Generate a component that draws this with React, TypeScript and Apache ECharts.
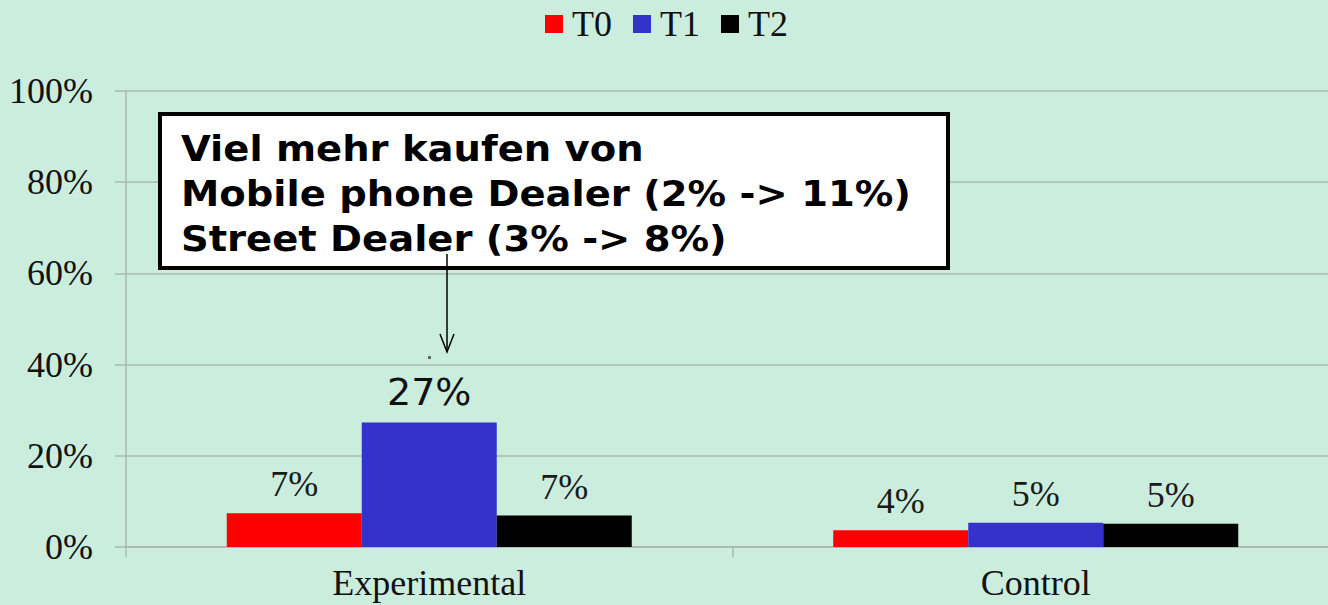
import React, { useEffect, useRef } from "react";
import * as echarts from "echarts";

const categories = ["Experimental", "Control"];
const seriesNames = ["T0", "T1", "T2"];
const t0Values = [7.4, 3.7];
const t1Values = [27.3, 5.3];
const t2Values = [6.9, 5.1];
const yTicks = [0, 20, 40, 60, 80, 100];
const noteLines = [
  "Viel mehr kaufen von",
  "Mobile phone Dealer (2% -> 11%)",
  "Street Dealer (3% -> 8%)",
];

const SERIF = "'Liberation Serif', 'Times New Roman', serif";
const SANS = "'DejaVu Sans', Verdana, sans-serif";
const GRID_COLOR = "#aab8b0";

export default function App() {
  const ref = useRef<HTMLDivElement>(null);

  useEffect(() => {
    if (!ref.current) return;
    const chart = echarts.init(ref.current, undefined, { renderer: "svg" });
    const colors = ["#ff0000", "#3333cc", "#000000"];
    const values = [t0Values, t1Values, t2Values];

    const series = seriesNames.map((name, si) => ({
      name,
      type: "bar",
      barWidth: 135,
      barGap: "0%",
      itemStyle: { color: colors[si] },
      label: {
        show: true,
        position: "top",
        distance: 11,
        fontFamily: SERIF,
        fontSize: 36,
        color: "#1a1a1a",
        formatter: (p: any) => Math.round(p.value) + "%",
      },
      data: values[si].map((v, ci) =>
        si === 1 && ci === 0
          ? {
              value: v,
              label: { fontFamily: SANS, fontSize: 38, distance: 12, color: "#111" },
            }
          : v
      ),
    }));

    const graphic: any[] = [
      {
        type: "rect",
        shape: { x: 160, y: 114, width: 788, height: 154 },
        style: { fill: "#ffffff", stroke: "#000000", lineWidth: 4 },
        z: 100,
      },
      ...noteLines.map((t, i) => ({
        type: "text",
        x: 181,
        y: 149 + i * 45,
        scaleX: 1.1,
        style: {
          text: t,
          fontFamily: SANS,
          fontWeight: "bold",
          fontSize: 35,
          fill: "#000",
          verticalAlign: "middle",
        },
        z: 101,
      })),
      {
        type: "line",
        shape: { x1: 447, y1: 254, x2: 447, y2: 351 },
        style: { stroke: "#000", lineWidth: 1.5 },
        z: 102,
      },
      {
        type: "polyline",
        shape: { points: [[440, 334], [447, 352], [454, 334]] },
        style: { stroke: "#000", lineWidth: 1.5, fill: "none" },
        z: 102,
      },
      {
        type: "rect",
        shape: { x: 428, y: 356, width: 3, height: 3 },
        style: { fill: "#666" },
        z: 102,
      },
    ];

    chart.setOption({
      animation: false,
      backgroundColor: "#cbedde",
      legend: {
        data: seriesNames,
        left: 540,
        top: 1,
        icon: "rect",
        itemWidth: 18,
        itemHeight: 18,
        itemGap: 21,
        textStyle: {
          fontFamily: SERIF,
          fontSize: 36,
          color: "#111",
          padding: [0, 0, 0, 4],
        },
      },
      grid: { left: 126, right: 1, top: 91, bottom: 58, containLabel: false },
      xAxis: {
        type: "category",
        data: categories,
        axisLine: { show: true, lineStyle: { color: GRID_COLOR, width: 1.5 } },
        axisTick: { show: true, length: 10, lineStyle: { color: GRID_COLOR, width: 1.5 } },
        axisLabel: { fontFamily: SERIF, fontSize: 36, color: "#111", margin: 18 },
      },
      yAxis: {
        type: "value",
        min: yTicks[0],
        max: yTicks[yTicks.length - 1],
        interval: yTicks[1] - yTicks[0],
        axisLine: { show: true, lineStyle: { color: GRID_COLOR, width: 1.5 } },
        axisTick: { show: true, length: 11, lineStyle: { color: GRID_COLOR, width: 1.5 } },
        splitLine: { show: true, lineStyle: { color: GRID_COLOR, width: 1.5 } },
        axisLabel: {
          fontFamily: SERIF,
          fontSize: 36,
          color: "#111",
          margin: 33,
          formatter: (v: number) => v + "%",
        },
      },
      series,
      graphic,
    });
    return () => chart.dispose();
  }, []);

  return (
    <div
      style={{
        position: "fixed",
        left: 0,
        top: 0,
        width: 1328,
        height: 605,
        overflow: "hidden",
      }}
    >
      <div ref={ref} style={{ width: 1340, height: 605 }} />
    </div>
  );
}
